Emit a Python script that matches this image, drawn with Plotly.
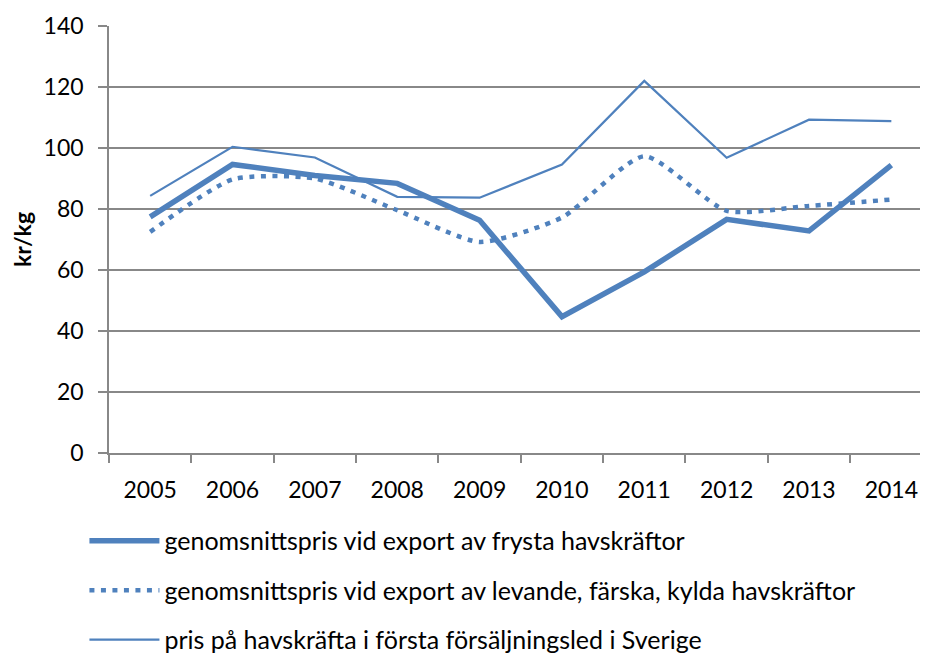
import plotly.graph_objects as go

years = ["2005", "2006", "2007", "2008", "2009", "2010", "2011", "2012", "2013", "2014"]
frysta = [77.4, 94.6, 91.0, 88.4, 76.3, 44.7, 59.4, 76.6, 72.8, 94.4]
levande = [72.5, 89.7, 90.0, 79.6, 69.2, 77.2, 97.3, 79.4, 81.0, 83.1]
forsta = [84.3, 100.4, 96.9, 84.0, 83.7, 94.6, 122.0, 96.8, 109.3, 108.8]

names = [
    "genomsnittspris vid export av frysta havskräftor",
    "genomsnittspris vid export av levande, färska, kylda havskräftor",
    "pris på havskräfta i första försäljningsled i Sverige",
]
y_ticks = [0, 20, 40, 60, 80, 100, 120, 140]

blue = "#4F81BD"
grid = "#888888"
font = "Lato"

fig = go.Figure()
fig.add_trace(go.Scatter(x=years, y=frysta, name=names[0], mode="lines",
                         line=dict(color=blue, width=5.5), legendgroup="a"))
fig.add_trace(go.Scatter(x=years, y=levande, name=names[1], mode="lines",
                         line=dict(color=blue, width=4.5, dash="5px,6.5px", shape="spline", smoothing=0.6),
                         legendgroup="b"))
fig.add_trace(go.Scatter(x=years, y=forsta, name=names[2], mode="lines",
                         line=dict(color=blue, width=2.2), legendgroup="c"))

fig.update_layout(
    width=920, height=645,
    margin=dict(l=101, r=0, t=18, b=200, autoexpand=False),
    paper_bgcolor="white", plot_bgcolor="white",
    font=dict(family=font, size=23, color="#000000"),
    showlegend=True,
    legend=dict(
        orientation="v", x=-0.030, xanchor="left", y=-0.152, yanchor="top",
        tracegroupgap=14, itemwidth=70, font=dict(family=font, size=25),
        bgcolor="rgba(0,0,0,0)",
    ),
    xaxis=dict(
        type="category", range=[-0.5, 9.445], automargin=False,
        showgrid=False, showline=True, linecolor=grid, linewidth=1.5,
        ticks="outside", tickson="boundaries", ticklen=8, tickcolor=grid, tickwidth=1.5,
        tickfont=dict(family=font, size=23), ticklabelstandoff=16, fixedrange=True,
    ),
    yaxis=dict(
        range=[0, 140], tickvals=y_ticks, showgrid=True, gridcolor=grid, gridwidth=1.5,
        showline=True, linecolor=grid, linewidth=1.5, zeroline=False, automargin=False,
        ticks="outside", ticklen=9, tickcolor=grid, tickwidth=1.5,
        tickfont=dict(family=font, size=23), ticklabelstandoff=10,
        title=dict(text="<b>kr/kg</b>", font=dict(family=font, size=23), standoff=10),
    ),
)

fig.write_html("out.html")
